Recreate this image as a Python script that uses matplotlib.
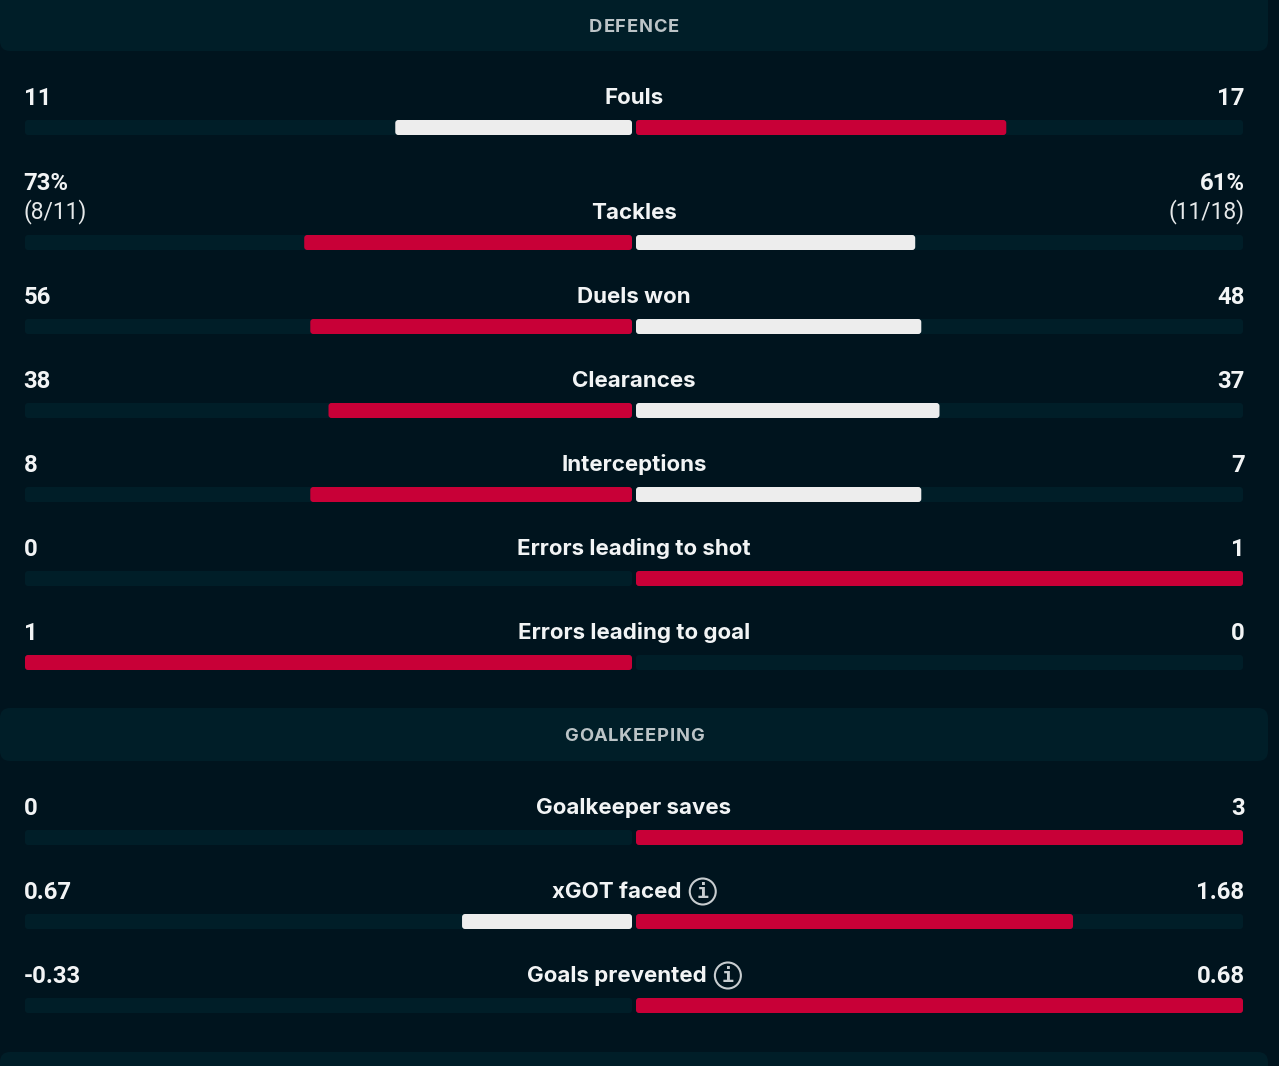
import math
import matplotlib
matplotlib.use("Agg")
import matplotlib.pyplot as plt
from matplotlib.patches import FancyBboxPatch, Circle

# Match statistics
defence_stats = ["Fouls", "Tackles", "Duels won", "Clearances", "Interceptions",
                 "Errors leading to shot", "Errors leading to goal"]
defence_home = [11, 73, 56, 38, 8, 0, 1]
defence_away = [17, 61, 48, 37, 7, 1, 0]
defence_home_labels = ["11", "73%", "56", "38", "8", "0", "1"]
defence_away_labels = ["17", "61%", "48", "37", "7", "1", "0"]

keeping_stats = ["Goalkeeper saves", "xGOT faced", "Goals prevented"]
keeping_home = [0, 0.67, -0.33]
keeping_away = [3, 1.68, 0.68]
keeping_home_labels = ["0", "0.67", "-0.33"]
keeping_away_labels = ["3", "1.68", "0.68"]

tackle_detail = ("(8/11)", "(11/18)")
info_stats = {"xGOT faced", "Goals prevented"}

# Page geometry, in pixels
WIDTH, HEIGHT = 1279, 1066
BG, PANEL, RED, WHITE, TEXT = "#00141e", "#001e28", "#c80037", "#ededed", "#f2f4f5"
HEADER_TEXT = "#bcc4c7"
LEFT, MID_L, MID_R, RIGHT = 25, 632, 636, 1243
BAR_H = 15
defence_bar_tops = [120, 235, 319, 403, 487, 571, 655]
keeping_bar_tops = [830, 914, 998]
NUM_FONT = "Roboto"

plt.rcParams["font.family"] = "Inter"
fig = plt.figure(figsize=(WIDTH / 100, HEIGHT / 100), dpi=100, facecolor=BG)
ax = fig.add_axes([0, 0, 1, 1])
ax.set_xlim(0, WIDTH)
ax.set_ylim(HEIGHT, 0)
ax.axis("off")


def rounded(x0, y0, w, h, color, r=3.0, z=2):
    ax.add_patch(FancyBboxPatch((x0 + r, y0 + r), w - 2 * r, h - 2 * r,
                                boxstyle=f"round,pad={r},rounding_size={r}",
                                fc=color, ec="none", zorder=z))


def spaced_title(title, cy, spacing=0.75):
    # Section titles are tracked out, so each letter is placed on its own
    renderer = fig.canvas.get_renderer()
    style = dict(fontsize=13.2, fontweight="bold")
    probe = ax.text(0, 0, title, **style)
    total = probe.get_window_extent(renderer).width + spacing * (len(title) - 1)
    probe.remove()
    for i, ch in enumerate(title):
        probe = ax.text(0, 0, title[:i] or " ", **style)
        offset = probe.get_window_extent(renderer).width if i else 0
        probe.remove()
        ax.text(634 - total / 2 + offset + spacing * i, cy + 6.5, ch, color=HEADER_TEXT,
                ha="left", va="baseline", **style)


def header(title, top, bottom, text_y=None):
    rounded(0, top, 1268, bottom - top, PANEL, r=10)
    if title:
        spaced_title(title, text_y)


def home_share(home, away):
    # Negative values count as nothing; the split is shown in whole percent
    h, a = max(home, 0), max(away, 0)
    return math.floor(100 * h / (h + a))


def stat_row(name, home, away, home_label, away_label, bar_top):
    rounded(LEFT, bar_top, MID_L - LEFT, BAR_H, PANEL)
    rounded(MID_R, bar_top, RIGHT - MID_R, BAR_H, PANEL)

    share = home_share(home, away)
    home_w = (MID_L - LEFT) * share / 100
    away_w = (RIGHT - MID_R) * (100 - share) / 100
    home_color, away_color = (RED, WHITE) if home > away else (WHITE, RED)
    if home_w > 0:
        rounded(MID_L - home_w, bar_top, home_w, BAR_H, home_color, z=3)
    if away_w > 0:
        rounded(MID_R, bar_top, away_w, BAR_H, away_color, z=3)

    y = bar_top - 16
    num = dict(color=TEXT, fontsize=17.2, fontweight="bold", family=NUM_FONT, va="baseline")
    detail = dict(color="#e6e9ea", fontsize=16.4, family=NUM_FONT, va="baseline")
    value_y = y - 29.5 if name == "Tackles" else y + 0.6
    ax.text(LEFT - 1.5, value_y, home_label, ha="left", **num)
    ax.text(RIGHT + 1.5, value_y, away_label, ha="right", **num)
    if name == "Tackles":
        # Percentages sit above the attempted/won breakdown
        ax.text(LEFT - 1.5, y - 0.5, tackle_detail[0], ha="left", **detail)
        ax.text(RIGHT + 1.5, y - 0.5, tackle_detail[1], ha="right", **detail)

    label = ax.text(634, y + 0.4, name, color=TEXT, fontsize=16.05, fontweight="bold",
                    ha="center", va="baseline")
    if name in info_stats:
        # The label and the info icon are centred together
        gap, radius = 8.0, 13.0
        width = label.get_window_extent(fig.canvas.get_renderer()).width
        x0 = 634 - (width + gap + 2 * radius) / 2
        label.set_ha("left")
        label.set_x(x0)
        cx = x0 + width + gap + radius
        cy = y - 6.5
        ax.add_patch(Circle((cx, cy), radius, fc="none", ec="#c8cdd0", lw=1.5, zorder=4))
        ax.text(cx, cy + 0.5, "i", color="#c8cdd0", fontsize=14.5, fontweight="bold",
                family="DejaVu Sans Mono", ha="center", va="center", zorder=4)


header("DEFENCE", -20, 51, 25)
for row in zip(defence_stats, defence_home, defence_away,
               defence_home_labels, defence_away_labels, defence_bar_tops):
    stat_row(*row)

header("GOALKEEPING", 708, 761, 734.5)
for row in zip(keeping_stats, keeping_home, keeping_away,
               keeping_home_labels, keeping_away_labels, keeping_bar_tops):
    stat_row(*row)

header("", 1052, 1100)

fig.savefig("out.png", dpi=100, facecolor=BG)
